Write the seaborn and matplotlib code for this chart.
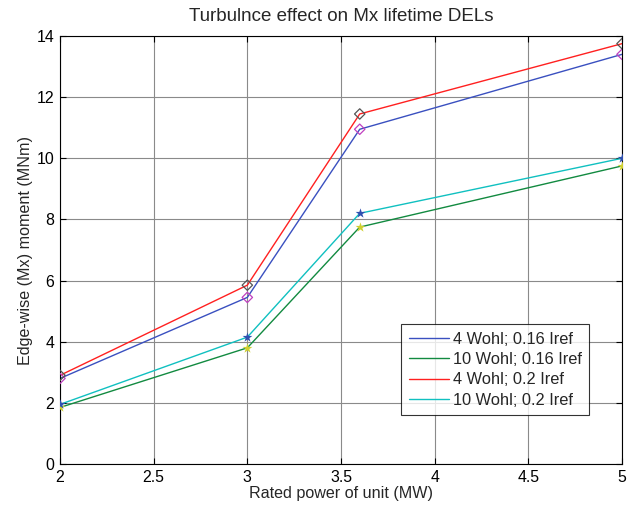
import matplotlib
matplotlib.use("Agg")
import matplotlib.pyplot as plt
import seaborn as sns
import pandas as pd

power_mw = [2, 3, 3.6, 5]
series_names = ['4 Wohl; 0.16 Iref', '10 Wohl; 0.16 Iref', '4 Wohl; 0.2 Iref', '10 Wohl; 0.2 Iref']
wohl4_i016 = [2.8, 5.45, 10.95, 13.4]
wohl10_i016 = [1.85, 3.8, 7.75, 9.75]
wohl4_i02 = [2.9, 5.85, 11.45, 13.75]
wohl10_i02 = [1.95, 4.15, 8.2, 10.0]

line_colors = ['#3a50c0', '#128a40', '#ff2020', '#10c0c0']
marker_styles = ['D', '*', 'D', '*']
marker_colors = ['#c040c0', '#d0d030', '#555555', '#3050b0']

values = [wohl4_i016, wohl10_i016, wohl4_i02, wohl10_i02]
df = pd.DataFrame({
    'power': power_mw * 4,
    'moment': [v for s in values for v in s],
    'series': [n for n in series_names for _ in power_mw],
})

sns.set_style("white")
plt.rcParams['font.family'] = ['Liberation Sans', 'DejaVu Sans']

fig = plt.figure(figsize=(6.35, 5.08), dpi=100)
ax = fig.add_axes([0.0945, 0.0866, 0.885, 0.8425])

sns.lineplot(data=df, x='power', y='moment', hue='series', hue_order=series_names,
             palette=line_colors, linewidth=1.0, ax=ax, estimator=None, sort=False)

for name, mk, mc in zip(series_names, marker_styles, marker_colors):
    sub = df[df['series'] == name]
    if mk == 'D':
        ax.scatter(sub['power'], sub['moment'], marker='D', s=28, facecolors='none',
                   edgecolors=mc, linewidths=0.9, zorder=5)
    else:
        ax.scatter(sub['power'], sub['moment'], marker='*', s=55, color=mc,
                   linewidths=0, zorder=5)

ax.set_xlim(2, 5)
ax.set_ylim(0, 14)
ax.set_xticks([2, 2.5, 3, 3.5, 4, 4.5, 5])
ax.set_xticklabels(['2', '2.5', '3', '3.5', '4', '4.5', '5'])
ax.set_yticks(range(0, 15, 2))
ax.grid(True, color='#8a8a8a', linewidth=0.8)
ax.tick_params(direction='in', length=4, labelsize=11.4, colors='black', top=True, right=True,
               bottom=True, left=True, pad=4)
for sp in ax.spines.values():
    sp.set_color('black')
    sp.set_linewidth(0.8)

ax.set_xlabel('Rated power of unit (MW)', fontsize=11.6, labelpad=1)
ax.set_ylabel('Edge-wise (Mx) moment (MNm)', fontsize=11.6, labelpad=3)
ax.set_title('Turbulnce effect on Mx lifetime DELs', fontsize=13.5, pad=11)

leg = ax.legend(loc='lower left', bbox_to_anchor=(0.607, 0.114), fontsize=11.8,
                frameon=True, fancybox=False, borderpad=0.45, labelspacing=0.33,
                handlelength=2.5, handletextpad=0.2, borderaxespad=0)
leg.get_frame().set_edgecolor('black')
leg.get_frame().set_linewidth(0.8)

fig.savefig('out.png', dpi=100)
plt.close()
